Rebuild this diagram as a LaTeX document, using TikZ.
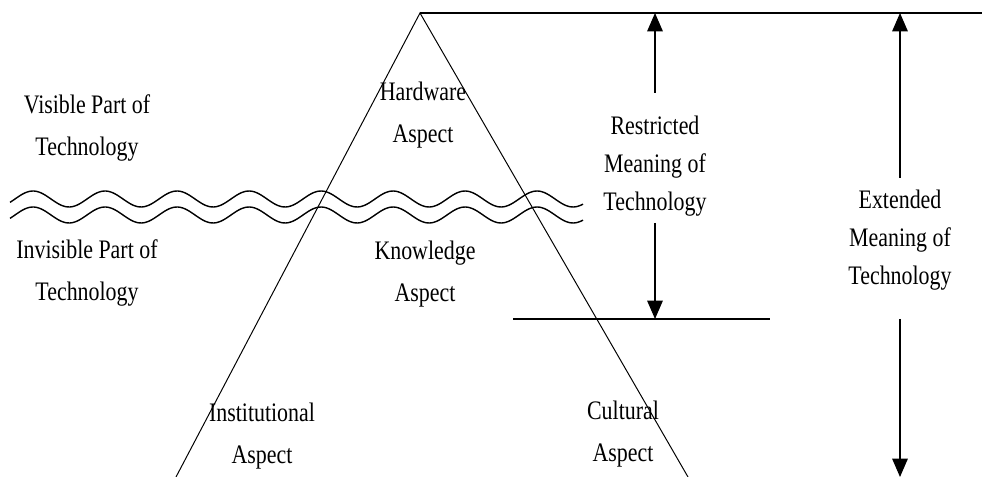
\documentclass[tikz,border=0pt]{standalone}
\usepackage{fontspec}
\setmainfont{Liberation Serif}[FakeStretch=0.82]
\newfontfamily\headfont{Liberation Serif}
\usepackage{tikz}
\usetikzlibrary{arrows.meta, positioning, calc}
\tikzstyle{arrow} = [line width=0.9pt,-{Triangle[width=11pt,length=13pt]}]
\tikzstyle{aspect} = [align=center, inner sep=0pt, font=\fontsize{19}{30}\selectfont]
\tikzstyle{meaning} = [align=center, inner sep=0pt, font=\fontsize{19}{27}\selectfont]
\tikzstyle{edge} = [line width=0.7pt]
\tikzstyle{level} = [line width=1.2pt]
\tikzstyle{wave} = [line width=1pt]

\begin{document}
\begin{tikzpicture}[x=0.025cm, y=-0.025cm]
    \useasboundingbox (0,0) rectangle (992,477);

    % cut-off line of the page above
    \node (pagetext) [anchor=base west, inner sep=0pt, font=\headfont\bfseries\fontsize{17}{20}\selectfont] at (-4,-1) {ations and culture.};

    % Triangle
    \coordinate (apex) at (420,13);
    \coordinate (lbase) at (176,477);
    \coordinate (rbase) at (688,477);
    \draw[edge] (lbase) -- (apex) -- (rbase);

    % Horizontal levels
    \coordinate (topend) at (982,13);
    \coordinate (restl) at (513,319);
    \coordinate (restr) at (770,319);
    \draw[level] (apex) -- (topend);
    \draw[level] (restl) -- (restr);

    % Water line
    \draw[wave] plot[domain=10:583, samples=240] (\x, {199 - 8*sin((\x-15)/72*360)});
    \draw[wave] plot[domain=10:583, samples=240] (\x, {215 - 8*sin((\x-15)/72*360)});

    % Labels
    \node (visible) [aspect] at (87,128) {Visible Part of\\Technology};
    \node (invisible) [aspect] at (87,273) {Invisible Part of\\Technology};
    \node (hardware) [aspect] at (423,115) {Hardware\\Aspect};
    \node (knowledge) [aspect] at (425,274) {Knowledge\\Aspect};
    \node (institutional) [aspect] at (262,436) {Institutional\\Aspect};
    \node (cultural) [aspect] at (623,434) {Cultural\\Aspect};

    % Restricted meaning
    \node (restricted) [meaning] at (655,166) {Restricted\\Meaning of\\Technology};
    \coordinate (rtop) at (655,93);
    \coordinate (rbot) at (655,223);
    \draw[arrow] (rtop) -- (rtop |- apex);
    \draw[arrow] (rbot) -- (rbot |- restl);

    % Extended meaning
    \node (extended) [meaning] at (900,240) {Extended\\Meaning of\\Technology};
    \coordinate (etop) at (900,178);
    \coordinate (ebot) at (900,319);
    \coordinate (eend) at (900,477);
    \draw[arrow] (etop) -- (etop |- apex);
    \draw[arrow] (ebot) -- (eend);
\end{tikzpicture}
\end{document}
